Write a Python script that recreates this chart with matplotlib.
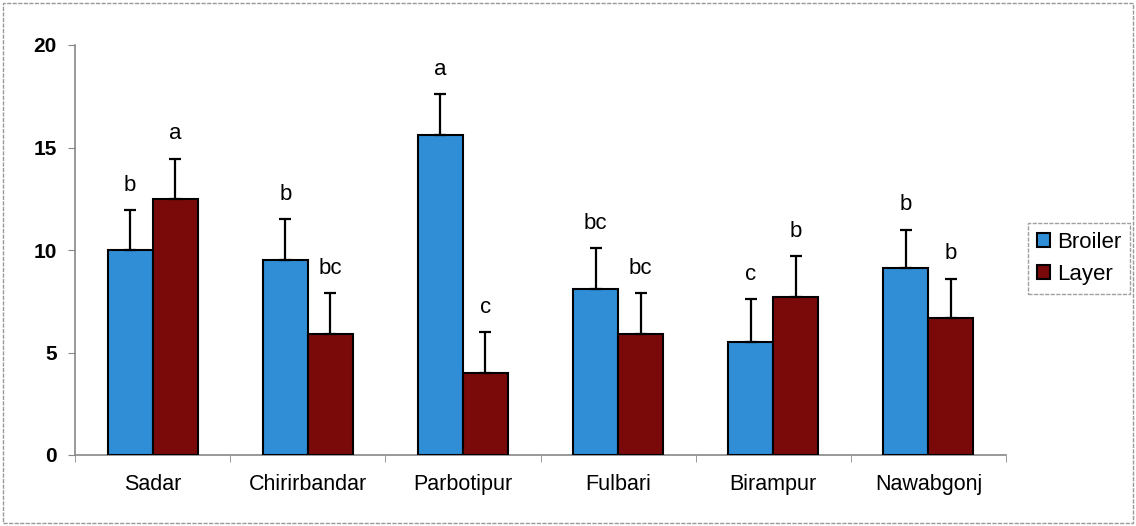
import numpy as np
import matplotlib
matplotlib.use('Agg')
import matplotlib.pyplot as plt

plt.rcParams['font.family'] = ['Liberation Sans', 'DejaVu Sans']

# Data
districts = ['Sadar', 'Chirirbandar', 'Parbotipur', 'Fulbari', 'Birampur', 'Nawabgonj']
broiler = [10.0, 9.5, 15.6, 8.1, 5.5, 9.1]
layer = [12.5, 5.9, 4.0, 5.9, 7.7, 6.7]
broiler_err = [1.95, 2.0, 2.0, 2.0, 2.1, 1.9]
layer_err = [1.95, 2.0, 2.0, 2.0, 2.0, 1.9]
broiler_letters = ['b', 'b', 'a', 'bc', 'c', 'b']
layer_letters = ['a', 'bc', 'c', 'bc', 'b', 'b']

blue = '#2f8ed6'
maroon = '#7a0a0a'

fig = plt.figure(figsize=(11.36, 5.26), dpi=100)
ax = fig.add_axes([75 / 1136, 1 - 455 / 526, (1006 - 75) / 1136, 410 / 526])

x = np.arange(len(districts))
w = 0.29
err_kw = dict(ecolor='black', elinewidth=1.6, capsize=4.5, capthick=1.6)
ax.bar(x - w / 2, broiler, w, color=blue, edgecolor='black', linewidth=1.5,
       label='Broiler', yerr=[np.zeros(len(x)), broiler_err], error_kw=err_kw, zorder=3)
ax.bar(x + w / 2, layer, w, color=maroon, edgecolor='black', linewidth=1.5,
       label='Layer', yerr=[np.zeros(len(x)), layer_err], error_kw=err_kw, zorder=3)

for i in range(len(x)):
    ax.text(x[i] - w / 2, broiler[i] + broiler_err[i] + 0.7, broiler_letters[i],
            ha='center', va='bottom', fontsize=16)
    ax.text(x[i] + w / 2, layer[i] + layer_err[i] + 0.7, layer_letters[i],
            ha='center', va='bottom', fontsize=16)

ax.set_xlim(-0.5, len(x) - 0.5)
ax.set_ylim(0, 20)
ax.set_yticks([0, 5, 10, 15, 20])
ax.set_xticks(x)
ax.set_xticklabels(districts, fontsize=15.5)
ax.set_xticks(np.arange(len(x) + 1) - 0.5, minor=True)
ax.tick_params(axis='x', which='major', length=0, pad=14)
ax.tick_params(axis='x', which='minor', length=5, color='#888888', direction='out')
ax.tick_params(axis='y', labelsize=15, length=5, color='#888888', pad=8)
for lbl in ax.get_yticklabels():
    lbl.set_fontweight('bold')

for s in ['top', 'right']:
    ax.spines[s].set_visible(False)
for s in ['left', 'bottom']:
    ax.spines[s].set_color('#888888')
    ax.spines[s].set_linestyle((0, (3, 1)))
    ax.spines[s].set_linewidth(1.2)

leg = ax.legend(loc='upper left', bbox_to_anchor=(1017 / 1136, 1 - 212 / 526),
                bbox_transform=fig.transFigure, fontsize=16, frameon=True,
                fancybox=False, handlelength=0.6, handleheight=0.6,
                handletextpad=0.3, borderpad=0.4, labelspacing=0.5)
leg.get_frame().set_edgecolor('#888888')
leg.get_frame().set_linestyle((0, (3, 1)))
leg.get_frame().set_linewidth(1.0)

# outer dashed chart border
fig.patches.append(plt.Rectangle((3 / 1136, 3 / 526), 1 - 6 / 1136, 1 - 6 / 526,
                                 transform=fig.transFigure, fill=False,
                                 edgecolor='#999999', linestyle=(0, (3, 1)), linewidth=1.0))

fig.savefig('out.png', dpi=100)
